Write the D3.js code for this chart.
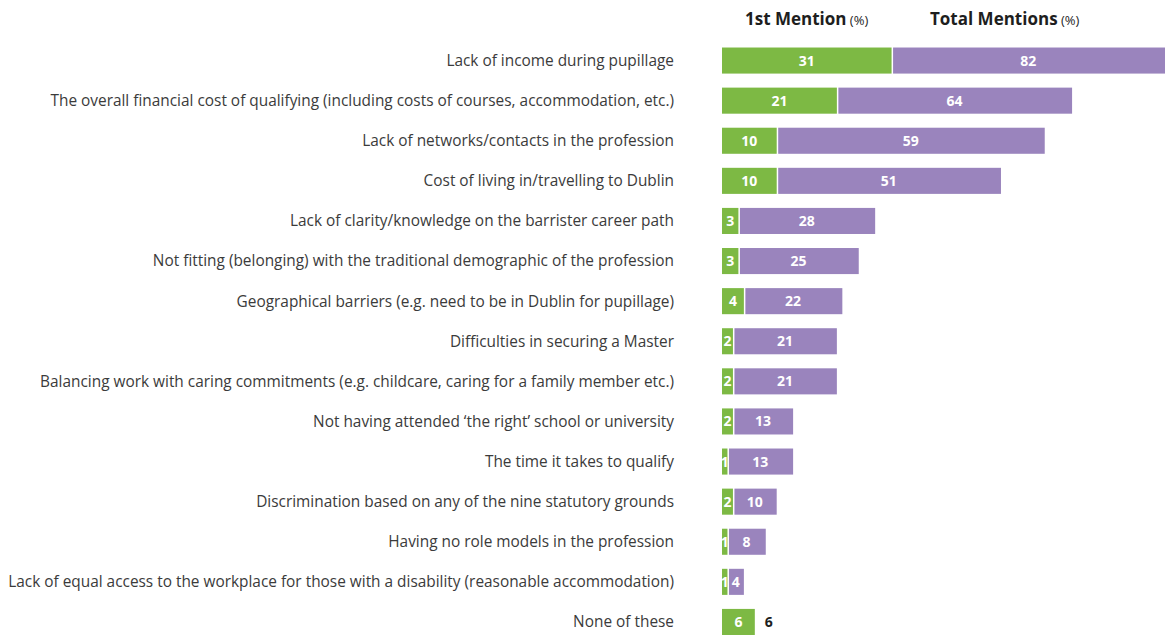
<!DOCTYPE html>
<meta charset="utf-8">
<style>
body { margin: 0; background: #fff; }
text { font-family: "Open Sans", sans-serif; }
.label { fill: #3b3b3b; font-size: 15.4px; }
.val { fill: #fff; font-size: 14px; font-weight: 700; }
.head { fill: #1e1e1e; font-size: 17px; font-weight: 700; }
</style>
<body>
<script src="https://d3js.org/d3.v7.min.js"></script>
<script>

var width = 1165
var height = 637

var categories = [
  "Lack of income during pupillage",
  "The overall financial cost of qualifying (including costs of courses, accommodation, etc.)",
  "Lack of networks/contacts in the profession",
  "Cost of living in/travelling to Dublin",
  "Lack of clarity/knowledge on the barrister career path",
  "Not fitting (belonging) with the traditional demographic of the profession",
  "Geographical barriers (e.g. need to be in Dublin for pupillage)",
  "Difficulties in securing a Master",
  "Balancing work with caring commitments (e.g. childcare, caring for a family member etc.)",
  "Not having attended \u2018the right\u2019 school or university",
  "The time it takes to qualify",
  "Discrimination based on any of the nine statutory grounds",
  "Having no role models in the profession",
  "Lack of equal access to the workplace for those with a disability (reasonable accommodation)",
  "None of these"
]
var firstMention = [31, 21, 10, 10, 3, 3, 4, 2, 2, 2, 1, 2, 1, 1, 6]
var totalMentions = [82, 64, 59, 51, 28, 25, 22, 21, 21, 13, 13, 10, 8, 4, 6]

var green = "#7db944"
var purple = "#9a84bd"

var data = categories.map(function(c, i) {
  return {cat: c, first: firstMention[i], total: totalMentions[i]}
})

var svg = d3.select("body").append("svg")
    .attr("width", width)
    .attr("height", height)

var left = 722

var x = d3.scaleLinear()
    .domain([0, 100])
    .range([left, left + 547])

var y = d3.scaleBand()
    .domain(categories)
    .range([40.5, 642])
    .paddingInner(0.35)
    .paddingOuter(0.175)

// header
var h1 = svg.append("text").attr("class", "head").attr("x", 745).attr("y", 25)
h1.append("tspan").text("1st Mention")
h1.append("tspan").attr("font-size", "13px").attr("font-weight", 400).text(" (%)")

var h2 = svg.append("text").attr("class", "head").attr("x", 930).attr("y", 25)
h2.append("tspan").text("Total Mentions")
h2.append("tspan").attr("font-size", "13px").attr("font-weight", 400).text(" (%)")

// category labels
svg.append("g").selectAll("text")
    .data(data)
  .enter().append("text")
    .attr("class", "label")
    .attr("x", 674)
    .attr("y", function(d) { return y(d.cat) + y.bandwidth() / 2 })
    .attr("dy", "0.35em")
    .attr("text-anchor", "end")
    .text(function(d) { return d.cat })

var row = svg.append("g").selectAll("g")
    .data(data)
  .enter().append("g")
    .attr("transform", function(d) { return "translate(0," + y(d.cat) + ")" })

row.append("rect")
    .attr("x", x(0))
    .attr("width", function(d) { return x(d.first) - x(0) })
    .attr("height", y.bandwidth())
    .attr("fill", green)

row.filter(function(d) { return d.total > d.first })
  .append("rect")
    .attr("x", function(d) { return x(d.first) + 1.5 })
    .attr("width", function(d) { return x(d.total) - x(d.first) - 1.5 })
    .attr("height", y.bandwidth())
    .attr("fill", purple)

row.append("text")
    .attr("class", "val")
    .attr("x", function(d) { return (x(0) + x(d.first)) / 2 })
    .attr("y", y.bandwidth() / 2)
    .attr("dy", "0.36em")
    .attr("text-anchor", "middle")
    .text(function(d) { return d.first })

row.append("text")
    .attr("class", "val")
    .attr("x", function(d) {
      if (d.total > d.first) return (x(d.first) + Math.min(x(d.total), width)) / 2
      return x(d.total) + 10
    })
    .attr("y", y.bandwidth() / 2)
    .attr("dy", "0.36em")
    .attr("text-anchor", function(d) { return d.total > d.first ? "middle" : "start" })
    .style("fill", function(d) { return d.total > d.first ? "#fff" : "#1e1e1e" })
    .text(function(d) { return d.total })

</script>
